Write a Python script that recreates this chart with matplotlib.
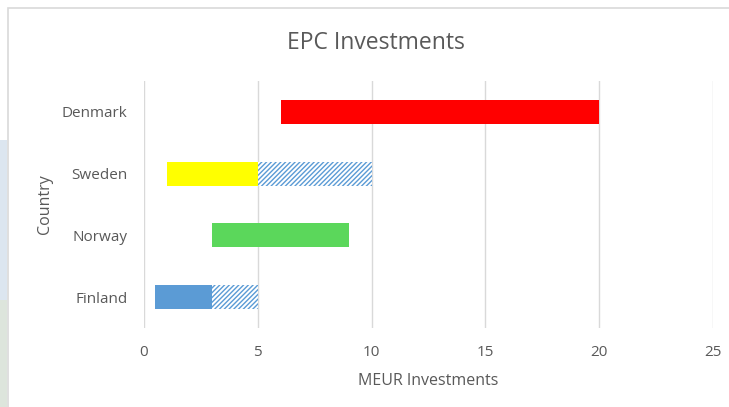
import matplotlib
matplotlib.use("Agg")
import matplotlib.pyplot as plt
from matplotlib.patches import Rectangle

plt.rcParams['font.family'] = ['Open Sans', 'DejaVu Sans']
plt.rcParams['hatch.linewidth'] = 1.0

countries = ["Finland", "Norway", "Sweden", "Denmark"]
solid_start = [0.5, 3, 1, 6]
solid_end = [3, 9, 5, 20]
solid_colors = ["#5B9BD5", "#5BD75B", "#FFFF00", "#FF0000"]
hatch_end = [5, 0, 10, 0]  # 0 = no hatched extension
xticks = [0, 5, 10, 15, 20, 25]

fig = plt.figure(figsize=(7.29, 4.07), dpi=100)
fig.patch.set_facecolor("white")

# background decoration left of chart frame
fig.patches.append(Rectangle((0, (407-300)/407), 7/729, 160/407, transform=fig.transFigure,
                             facecolor="#DCE6F0", edgecolor="none", zorder=0))
fig.patches.append(Rectangle((0, 0), 7/729, (407-300)/407, transform=fig.transFigure,
                             facecolor="#DDE5DC", edgecolor="none", zorder=0))
# chart frame
fig.patches.append(Rectangle((7.5/729, -0.1), 1.2, (407-8)/407 + 0.1, transform=fig.transFigure,
                             facecolor="none", edgecolor="#D9D9D9", linewidth=1.2, zorder=1))

ax = fig.add_axes([144/729, (407-328)/407, (713-144)/729, (328-81)/407])
ax.set_facecolor("none")

y = list(range(len(countries)))
h = 0.39
ax.barh(y, [e - s for s, e in zip(solid_start, solid_end)], left=solid_start,
        height=h, color=solid_colors, edgecolor="none", zorder=3)
for i, (s, he) in enumerate(zip(solid_end, hatch_end)):
    if he > s:
        ax.barh(i, he - s, left=s, height=h, facecolor="white",
                edgecolor="#5B9BD5", hatch="///////", linewidth=0, zorder=3)

ax.set_xlim(0, 25)
ax.set_ylim(-0.5, 3.5)
ax.set_xticks(xticks)
ax.set_yticks(y)
ax.set_yticklabels(countries)
ax.grid(axis="x", color="#D9D9D9", linewidth=1, zorder=0)
ax.set_axisbelow(True)
for sp in ax.spines.values():
    sp.set_visible(False)
ax.tick_params(length=0, colors="#595959", labelsize=11)
ax.tick_params(axis="x", pad=12)
ax.tick_params(axis="y", pad=12)

ax.set_xlabel("MEUR Investments", fontsize=11.5, color="#595959", va="center")
ax.set_ylabel("Country", fontsize=11.5, color="#595959", va="center")
ax.xaxis.set_label_coords(0.5, (328 - 381) / 247)
ax.yaxis.set_label_coords((45 - 144) / 569, 0.5)
fig.text(376/729, (407-43)/407, "EPC Investments", ha="center", va="center",
         fontsize=16.5, color="#595959")

fig.savefig("out.png", dpi=100)
